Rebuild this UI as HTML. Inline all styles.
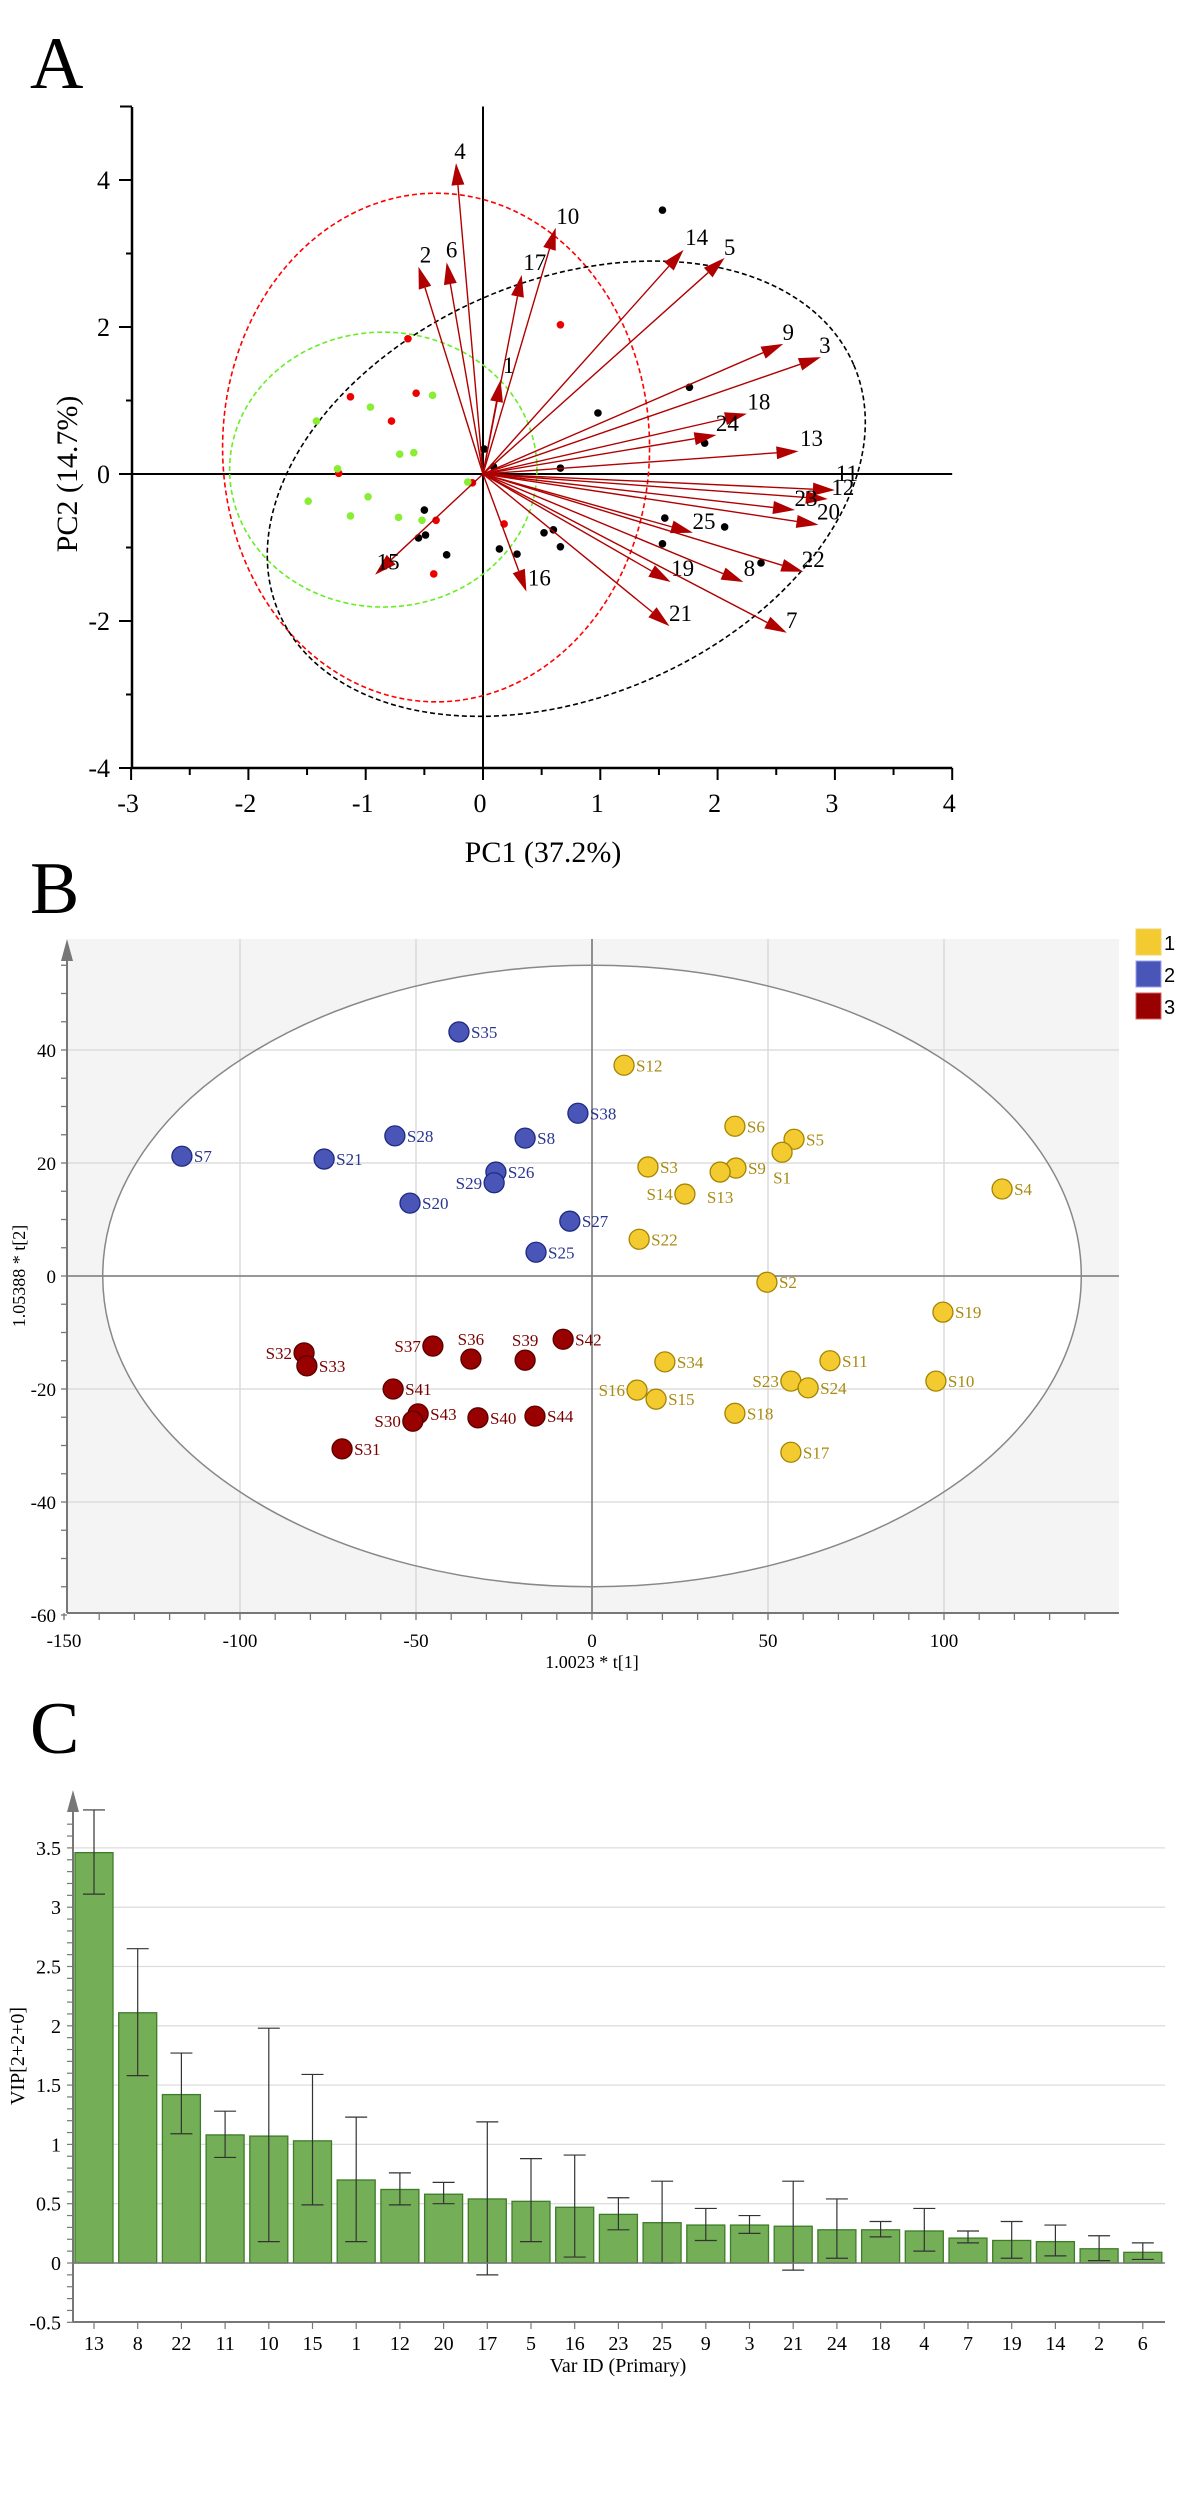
<!DOCTYPE html>
<html><head><meta charset="utf-8"><style>
html,body{margin:0;padding:0;background:#fff;}
svg{display:block;font-family:"Liberation Serif",serif;}
</style></head><body>
<svg id="fig" width="1177" height="2500" viewBox="0 0 1177 2500" xmlns="http://www.w3.org/2000/svg">
<text x="30" y="88" font-size="74">A</text>
<text x="30" y="913" font-size="74">B</text>
<text x="30" y="1753" font-size="74">C</text>
<g id="pa"></g>
<g id="pb"></g>
<g id="pc"></g>
</svg>
<script>
// ---------- Panel A data ----------
const aVarIds = ["4","2","6","17","10","1","15","16","14","5","9","3","18","24","13","11","12","23","20","22","25","8","19","21","7"];
const aLoadX = [-0.23,-0.55,-0.31,0.33,0.62,0.15,-0.92,0.37,1.71,2.06,2.56,2.88,2.25,1.99,2.69,3.0,2.94,2.66,2.86,2.73,1.79,2.22,1.6,1.59,2.59];
const aLoadY = [4.23,2.82,2.88,2.71,3.35,1.28,-1.37,-1.6,3.05,2.94,1.77,1.59,0.82,0.53,0.31,-0.22,-0.34,-0.49,-0.69,-1.33,-0.8,-1.47,-1.47,-2.07,-2.16];
const aLabelOff = [[4,-12],[7,-12],[5,-13],[13,-13],[12,-12],[8,-15],[13,-13],[13,-14],[13,-13],[5,-11],[5,-12],[4,-12],[12,-12],[11,-12],[13,-13],[12,-17],[15,-12],[11,-12],[10,-13],[10,-13],[11,-12],[6,-14],[12,-14],[11,-13],[5,-13]];
const aRedX = [-0.64,-1.13,-0.57,-0.78,-1.23,-0.09,-0.40,0.18,-0.42,0.66];
const aRedY = [1.84,1.05,1.10,0.72,0.01,-0.12,-0.63,-0.68,-1.36,2.03];
const aGreenX = [-0.43,-0.96,-1.42,-0.71,-0.59,-1.24,-0.13,-1.49,-0.98,-1.13,-0.72,-0.52];
const aGreenY = [1.07,0.91,0.72,0.27,0.29,0.07,-0.11,-0.37,-0.31,-0.57,-0.59,-0.63];
const aBlackX = [0.01,-0.50,-0.49,-0.55,-0.31,0.14,0.29,0.52,0.60,0.66,0.98,0.66,0.09,1.53,1.76,1.89,1.55,2.06,1.53,2.37];
const aBlackY = [0.34,-0.49,-0.83,-0.87,-1.10,-1.02,-1.09,-0.80,-0.76,-0.99,0.83,0.08,0.10,3.59,1.18,0.42,-0.60,-0.72,-0.95,-1.21];
const aXTicks = [-3,-2,-1,0,1,2,3,4];
const aYTicks = [4,2,0,-2,-4];

// ---------- Panel B data ----------
const bNames = ["S35","S7","S21","S28","S8","S38","S26","S29","S20","S27","S25","S32","S33","S37","S36","S39","S42","S41","S43","S30","S40","S44","S31","S12","S6","S5","S1","S3","S9","S13","S14","S22","S2","S4","S19","S34","S11","S23","S24","S10","S16","S15","S18","S17"];
const bX = [-37.8,-116.5,-76.1,-56,-19,-4,-27.3,-27.8,-51.7,-6.3,-15.9,-81.8,-81,-45.2,-34.4,-19,-8.2,-56.5,-49.4,-50.9,-32.4,-16.2,-71,9.1,40.6,57.4,54,15.9,40.9,36.4,26.4,13.4,49.7,116.5,99.7,20.7,67.6,56.5,61.4,97.7,12.8,18.2,40.6,56.5];
const bY = [43.2,21.2,20.7,24.8,24.4,28.8,18.4,16.5,12.9,9.7,4.2,-13.6,-15.9,-12.4,-14.7,-14.9,-11.2,-20,-24.4,-25.7,-25.1,-24.8,-30.6,37.3,26.5,24.2,21.9,19.3,19.1,18.4,14.5,6.5,-1.1,15.4,-6.4,-15.2,-15,-18.6,-19.8,-18.6,-20.2,-21.8,-24.3,-31.2];
const bGroup = [2,2,2,2,2,2,2,2,2,2,2,3,3,3,3,3,3,3,3,3,3,3,3,1,1,1,1,1,1,1,1,1,1,1,1,1,1,1,1,1,1,1,1,1];
const bLabelSide = ["r","r","r","r","r","r","r","l","r","r","r","l","r","l","t","t","r","r","r","l","r","r","r","r","r","r","b","r","r","b","l","r","r","r","r","r","r","l","r","r","l","r","r","r"];
const bXTicks = [-150,-100,-50,0,50,100];
const bYTicks = [40,20,0,-20,-40,-60];
const bLegend = ["1","2","3"];

// ---------- Panel C data ----------
const cCats = ["13","8","22","11","10","15","1","12","20","17","5","16","23","25","9","3","21","24","18","4","7","19","14","2","6"];
const cVals = [3.46,2.11,1.42,1.08,1.07,1.03,0.70,0.62,0.58,0.54,0.52,0.47,0.41,0.34,0.32,0.32,0.31,0.28,0.28,0.27,0.21,0.19,0.18,0.12,0.09];
const cErrHi = [3.82,2.65,1.77,1.28,1.98,1.59,1.23,0.76,0.68,1.19,0.88,0.91,0.55,0.69,0.46,0.40,0.69,0.54,0.35,0.46,0.27,0.35,0.32,0.23,0.17];
const cErrLo = [3.11,1.58,1.09,0.89,0.18,0.49,0.18,0.49,0.50,-0.10,0.18,0.05,0.28,0.00,0.19,0.25,-0.06,0.04,0.22,0.10,0.17,0.04,0.06,0.02,0.03];
const cYTicks = [3.5,3,2.5,2,1.5,1,0.5,0,-0.5];

const NS="http://www.w3.org/2000/svg";
function mk(parent,tag,attrs,text){const e=document.createElementNS(NS,tag);for(const k in attrs)e.setAttribute(k,attrs[k]);if(text!==undefined)e.textContent=text;parent.appendChild(e);return e;}

// ===== Panel A =====
(function(){
const g=document.getElementById('pa');
const X=v=>483+v*117.3, Y=v=>474-v*73.5;
let e=mk(g,'line',{x1:132,y1:107,x2:132,y2:768,stroke:'#000','stroke-width':2.5});


e=mk(g,'line',{x1:132,y1:768,x2:X(4),y2:768,stroke:'#000','stroke-width':2.5});


mk(g,'line',{x1:120,y1:Y(5),x2:132,y2:Y(5),stroke:'#000','stroke-width':2});
e=mk(g,'line',{x1:120,y1:Y(0),x2:X(4),y2:Y(0),stroke:'#000','stroke-width':2});


e=mk(g,'line',{x1:X(0),y1:Y(5),x2:X(0),y2:768,stroke:'#000','stroke-width':2});


for(let v=-4;v<=5;v++){const maj=v%2===0;mk(g,'line',{x1:maj?119:126,y1:Y(v),x2:132,y2:Y(v),stroke:'#000','stroke-width':2});}
for(let v=-3;v<=4;v+=0.5){const maj=Number.isInteger(v);mk(g,'line',{x1:X(v),y1:768,x2:X(v),y2:maj?780:775,stroke:'#000','stroke-width':2});}
aXTicks.forEach(v=>{const t=mk(g,'text',{x:X(v)-3,y:812,'font-size':26,'text-anchor':'middle'},String(v));

});
aYTicks.forEach(v=>{const t=mk(g,'text',{x:110,y:Y(v)+9,'font-size':26,'text-anchor':'end'},String(v));

});
e=mk(g,'text',{x:543,y:862,'font-size':30,'text-anchor':'middle'},'PC1 (37.2%)');


e=mk(g,'text',{x:0,y:0,'font-size':30,'text-anchor':'middle',transform:'translate(77,474) rotate(-90)'},'PC2 (14.7%)');


e=mk(g,'ellipse',{cx:X(-0.4),cy:Y(0.36),rx:1.82*117.3,ry:3.46*73.5,fill:'none',stroke:'#ff0000','stroke-width':1.6,'stroke-dasharray':'5,3'});


e=mk(g,'ellipse',{cx:X(-0.85),cy:Y(0.06),rx:1.31*117.3,ry:1.87*73.5,fill:'none',stroke:'#66ee22','stroke-width':1.6,'stroke-dasharray':'5,3'});


e=mk(g,'ellipse',{cx:0,cy:0,rx:313,ry:208,fill:'none',stroke:'#000','stroke-width':1.6,'stroke-dasharray':'5,3',transform:'translate('+X(0.71)+','+Y(-0.2)+') rotate(-23.3)'});


function dots(xs,ys,col,name){xs.forEach((x,i)=>{const c=mk(g,'circle',{cx:X(x),cy:Y(ys[i]),r:3.8,fill:col});

});}
dots(aRedX,aRedY,'#ee0000','red-sample-dot');
dots(aGreenX,aGreenY,'#88ee33','green-sample-dot');
dots(aBlackX,aBlackY,'#000','black-sample-dot');
aVarIds.forEach((id,i)=>{
 const tx=X(aLoadX[i]),ty=Y(aLoadY[i]),ox=X(0),oy=Y(0);
 const dx=tx-ox,dy=ty-oy,L=Math.hypot(dx,dy),ux=dx/L,uy=dy/L,hl=22,hw=6.5;
 const bx=tx-ux*hl,by=ty-uy*hl;
 const ar=mk(g,'g',{});
 
 
 mk(ar,'line',{x1:ox,y1:oy,x2:bx,y2:by,stroke:'#b00000','stroke-width':1.4});
 mk(ar,'polygon',{points:tx+','+ty+' '+(bx-uy*hw)+','+(by+ux*hw)+' '+(bx+uy*hw)+','+(by-ux*hw),fill:'#b00000'});
 const t=mk(ar,'text',{x:tx+aLabelOff[i][0],y:ty+aLabelOff[i][1]+8,'font-size':23,'text-anchor':'middle'},id);
 
 
});
})();

// ===== Panel B =====
(function(){
const g=document.getElementById('pb');
const X=v=>592+v*3.52, Y=v=>1276-v*5.65;
let e=mk(g,'rect',{x:67,y:939,width:1052,height:674,fill:'#f4f4f4'});


e=mk(g,'ellipse',{cx:X(0),cy:Y(0),rx:139*3.52,ry:55*5.65,fill:'#fff'});
[-100,-50,50,100].forEach(v=>mk(g,'line',{x1:X(v),y1:939,x2:X(v),y2:1613,stroke:'#d6d6d6','stroke-width':1.3}));
[40,20,-20,-40].forEach(v=>mk(g,'line',{x1:67,y1:Y(v),x2:1119,y2:Y(v),stroke:'#d6d6d6','stroke-width':1.3}));
mk(g,'line',{x1:X(0),y1:939,x2:X(0),y2:1613,stroke:'#777','stroke-width':1.6});
mk(g,'line',{x1:67,y1:Y(0),x2:1119,y2:Y(0),stroke:'#777','stroke-width':1.6});
e=mk(g,'ellipse',{cx:X(0),cy:Y(0),rx:139*3.52,ry:55*5.65,fill:'none',stroke:'#888','stroke-width':1.5});


e=mk(g,'line',{x1:67,y1:950,x2:67,y2:1613,stroke:'#777','stroke-width':2});


mk(g,'polygon',{points:'67,939 61,961 73,961',fill:'#777'});
e=mk(g,'line',{x1:67,y1:1613,x2:1119,y2:1613,stroke:'#777','stroke-width':2});


for(let v=-60;v<=55;v+=5){mk(g,'line',{x1:61,y1:Y(v),x2:67,y2:Y(v),stroke:'#777','stroke-width':1.3});}
for(let v=-150;v<=140;v+=10){mk(g,'line',{x1:X(v),y1:1613,x2:X(v),y2:1620,stroke:'#777','stroke-width':1.3});}
bXTicks.forEach(v=>{const t=mk(g,'text',{x:X(v),y:1647,'font-size':19,'text-anchor':'middle'},String(v));

});
bYTicks.forEach(v=>{const t=mk(g,'text',{x:56,y:Y(v)+7,'font-size':19,'text-anchor':'end'},String(v));

});
e=mk(g,'text',{x:592,y:1668,'font-size':18,'text-anchor':'middle'},'1.0023 * t[1]');


e=mk(g,'text',{x:0,y:0,'font-size':18,'text-anchor':'middle',transform:'translate(25,1276) rotate(-90)'},'1.05388 * t[2]');


const fills={1:'#f3cb30',2:'#4a55b8',3:'#990000'}, strokes={1:'#a48400',2:'#1e2a80',3:'#5a0000'}, tcol={1:'#a88a10',2:'#2a3590',3:'#7a0000'};
bNames.forEach((n,i)=>{
 const cx=X(bX[i]),cy=Y(bY[i]),gr=bGroup[i];
 const c=mk(g,'circle',{cx:cx,cy:cy,r:10,fill:fills[gr],stroke:strokes[gr],'stroke-width':1.3});
 
 
 const s=bLabelSide[i];let a={x:cx+12,y:cy+6,'text-anchor':'start'};
 if(s==='l')a={x:cx-12,y:cy+6,'text-anchor':'end'};
 if(s==='t')a={x:cx,y:cy-14,'text-anchor':'middle'};
 if(s==='b')a={x:cx,y:cy+31,'text-anchor':'middle'};
 a['font-size']=17;a.fill=tcol[gr];
 const t=mk(g,'text',a,n);
 
 
});
bLegend.forEach((l,i)=>{
 const gr=i+1;const y=929+i*32;
 const r=mk(g,'rect',{x:1136,y:y,width:25,height:26,fill:fills[gr],stroke:gr===2?'#9aa0ee':(gr===3?'#d06060':'#f0d070'),'stroke-width':1});
 
 
 const t=mk(g,'text',{x:1164,y:y+21,'font-size':20,'font-family':'Liberation Sans, sans-serif'},l);
 
 
});
})();

// ===== Panel C =====
(function(){
const g=document.getElementById('pc');
const X=i=>94+i*43.7, Y=v=>2263-v*118.6;
cYTicks.forEach(v=>{if(v>0)mk(g,'line',{x1:73,y1:Y(v),x2:1165,y2:Y(v),stroke:'#ddd','stroke-width':1.3});});
let e=mk(g,'line',{x1:73,y1:1800,x2:73,y2:2322,stroke:'#777','stroke-width':2});


mk(g,'polygon',{points:'73,1790 67,1812 79,1812',fill:'#777'});
e=mk(g,'line',{x1:73,y1:2322,x2:1165,y2:2322,stroke:'#777','stroke-width':2});


for(let k=-5;k<=37;k++){const v=k/10;mk(g,'line',{x1:67,y1:Y(v),x2:73,y2:Y(v),stroke:'#777','stroke-width':1.2});}
cYTicks.forEach(v=>{const t=mk(g,'text',{x:61,y:Y(v)+7,'font-size':20,'text-anchor':'end'},String(v));

});
cCats.forEach((c,i)=>{
 const x=X(i),v=cVals[i];
 const b=mk(g,'rect',{x:x-19,y:Math.min(Y(v),Y(0)),width:38,height:Math.abs(Y(0)-Y(v)),fill:'#74ae56',stroke:'#3e7c2a','stroke-width':1.3});
 
 
 const eb=mk(g,'g',{stroke:'#333','stroke-width':1.2});
 
 
 mk(eb,'line',{x1:x,y1:Y(cErrHi[i]),x2:x,y2:Y(cErrLo[i])});
 mk(eb,'line',{x1:x-11,y1:Y(cErrHi[i]),x2:x+11,y2:Y(cErrHi[i])});
 mk(eb,'line',{x1:x-11,y1:Y(cErrLo[i]),x2:x+11,y2:Y(cErrLo[i])});
 mk(g,'line',{x1:x,y1:2322,x2:x,y2:2329,stroke:'#777','stroke-width':1.2});
 const t=mk(g,'text',{x:x,y:2350,'font-size':20,'text-anchor':'middle'},c);
 
 
});
mk(g,'line',{x1:73,y1:Y(0),x2:1165,y2:Y(0),stroke:'#777','stroke-width':1.4});
e=mk(g,'text',{x:618,y:2372,'font-size':20,'text-anchor':'middle'},'Var ID (Primary)');


e=mk(g,'text',{x:0,y:0,'font-size':20,'text-anchor':'middle',transform:'translate(24,2056) rotate(-90)'},'VIP[2+2+0]');


})();
</script>
</body></html>
